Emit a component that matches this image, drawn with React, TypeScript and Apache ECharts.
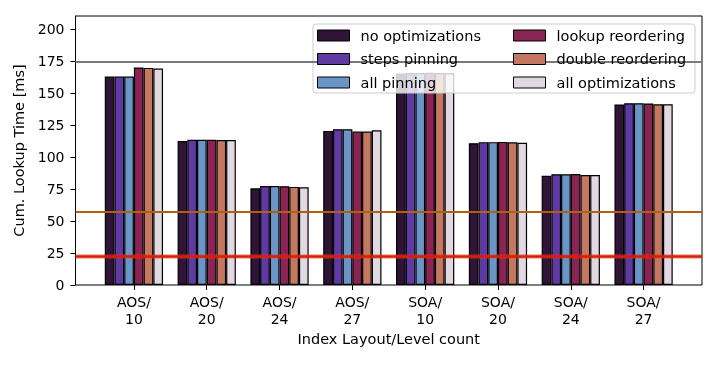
import React, { useEffect, useRef } from "react";
import * as echarts from "echarts";

const categories = ["AOS/10", "AOS/20", "AOS/24", "AOS/27", "SOA/10", "SOA/20", "SOA/24", "SOA/27"];
const seriesNames = [
  "no optimizations",
  "steps pinning",
  "all pinning",
  "lookup reordering",
  "double reordering",
  "all optimizations",
];
const noOptimizations = [162.7, 112.4, 75.5, 120.3, 165.2, 110.7, 85.2, 140.9];
const stepsPinning = [162.7, 113.3, 77.3, 121.6, 165.5, 111.5, 86.5, 141.9];
const allPinning = [162.7, 113.3, 77.3, 121.6, 165.5, 111.5, 86.5, 141.9];
const lookupReordering = [169.8, 113.4, 77.1, 119.8, 165.6, 111.7, 86.7, 141.7];
const doubleReordering = [169.5, 113.2, 76.6, 119.8, 165.5, 111.4, 85.9, 141.1];
const allOptimizations = [169.0, 113.1, 76.3, 120.8, 165.3, 111.1, 85.9, 141.1];
const seriesValues = [
  noOptimizations,
  stepsPinning,
  allPinning,
  lookupReordering,
  doubleReordering,
  allOptimizations,
];
const seriesColors = ["#2f1437", "#5f3aa3", "#6b95c6", "#8a2454", "#c47862", "#e1d8e1"];
const yTicks = [0, 25, 50, 75, 100, 125, 150, 175, 200];
const refGrey = 174;
const refOrange = 57.3;
const refRed = 22.6;

const FONT = "DejaVu Sans";

export default function App() {
  const ref = useRef<HTMLDivElement>(null);
  useEffect(() => {
    const chart = echarts.init(ref.current!, null, { renderer: "svg" });
    const gridTop = 16;
    const gridBottom = 80;
    const bars = seriesNames.map((name, i) => ({
      name,
      type: "bar",
      xAxisIndex: 1,
      yAxisIndex: 1,
      data: seriesValues[i],
      barGap: "0%",
      barCategoryGap: "20%",
      itemStyle: { color: seriesColors[i], borderColor: "#000", borderWidth: 1.2 },
      z: 2,
    }));
    const legendText = { color: "#000", fontSize: 14.5, fontFamily: FONT, lineHeight: 14, padding: [0, 0, 0, 6] };
    const option: any = {
      animation: false,
      textStyle: { fontFamily: FONT },
      grid: [
        { left: 75.5, right: 16, top: gridTop, bottom: gridBottom, show: true, borderColor: "#000", borderWidth: 1, backgroundColor: "transparent", z: 0 },
        { left: 97.5, right: 38, top: gridTop, bottom: gridBottom },
      ],
      xAxis: [
        {
          gridIndex: 0,
          type: "value",
          min: 0,
          max: 1,
          show: false,
        },
        {
          gridIndex: 1,
          type: "category",
          data: categories,
          axisLine: { show: false },
          axisTick: { show: true, alignWithLabel: true, length: 5, lineStyle: { color: "#000" } },
          axisLabel: {
            color: "#000",
            fontSize: 14,
            fontFamily: FONT,
            lineHeight: 17,
            margin: 8,
            formatter: (v: string) => v.replace("/", "/\n"),
          },
          name: "Index Layout/Level count",
          nameLocation: "middle",
          nameGap: 46,
          nameTextStyle: { color: "#000", fontSize: 14.5, fontFamily: FONT },
        },
      ],
      yAxis: [
        {
          gridIndex: 0,
          type: "value",
          min: 0,
          max: 210,
          splitLine: { show: false },
          axisLine: { show: true, lineStyle: { color: "#000" } },
          axisTick: { show: true, length: 5, customValues: yTicks, lineStyle: { color: "#000" } },
          axisLabel: { color: "#000", fontSize: 14, fontFamily: FONT, margin: 11, customValues: yTicks },
          name: "Cum. Lookup Time [ms]",
          nameLocation: "middle",
          nameGap: 43,
          nameTextStyle: { color: "#000", fontSize: 14.5, fontFamily: FONT },
        },
        { gridIndex: 1, type: "value", min: 0, max: 210, show: false },
      ],
      legend: [
        {
          data: seriesNames.slice(0, 3),
          orient: "vertical",
          left: 317,
          top: 28,
          padding: 0,
          itemWidth: 32,
          itemHeight: 11,
          itemGap: 8.5,
          icon: "rect",
          z: 6,
          itemStyle: { borderColor: "#000", borderWidth: 1 },
          textStyle: legendText,
        },
        {
          data: seriesNames.slice(3),
          orient: "vertical",
          left: 513,
          top: 28,
          padding: 0,
          itemWidth: 32,
          itemHeight: 11,
          itemGap: 8.5,
          icon: "rect",
          z: 6,
          itemStyle: { borderColor: "#000", borderWidth: 1 },
          textStyle: legendText,
        },
      ],
      graphic: [
        {
          type: "rect",
          z: 5,
          shape: { x: 313, y: 24, width: 382, height: 69, r: 3 },
          style: { fill: "rgba(255,255,255,0.8)", stroke: "#cccccc", lineWidth: 1 },
        },
      ],
      series: [
        ...bars,
        {
          type: "line",
          xAxisIndex: 0,
          yAxisIndex: 0,
          data: [],
          silent: true,
          z: 3,
          markLine: {
            silent: true,
            symbol: ["none", "none"],
            label: { show: false },
            data: [
              { yAxis: refGrey, lineStyle: { color: "#7a7a7a", width: 2, type: "solid" } },
              { yAxis: refOrange, lineStyle: { color: "#b0600e", width: 2, type: "solid" } },
              { yAxis: refRed, lineStyle: { color: "rgba(235,60,40,0.35)", width: 5, type: "solid" } },
              { yAxis: refRed, lineStyle: { color: "#d81e05", width: 2.5, type: "solid" } },
            ],
          },
        },
      ],
    };
    chart.setOption(option);
    return () => chart.dispose();
  }, []);
  return <div ref={ref} style={{ position: "fixed", left: 0, top: 0, width: 718, height: 365 }} />;
}
